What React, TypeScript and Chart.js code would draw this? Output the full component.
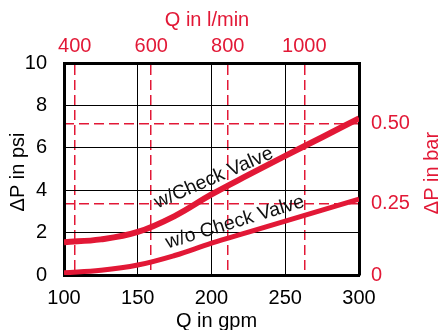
import React, { useEffect, useRef } from 'react';
import { Chart, registerables } from 'chart.js';

Chart.register(...registerables);

// ---- data ----
const flowGpm = [100, 125, 150, 175, 200, 225, 250, 275, 300];
const withCheckPsi = [1.55, 1.68, 2.03, 2.78, 3.8, 4.72, 5.62, 6.5, 7.39];
const withoutCheckPsi = [0.1, 0.22, 0.47, 0.92, 1.5, 2.02, 2.54, 3.06, 3.58];
const gpmTicks = [100, 150, 200, 250, 300];
const lpmTicks = [400, 600, 800, 1000];
const psiTicks = [0, 2, 4, 6, 8, 10];
const barTicks = [0, 0.25, 0.5];
const lpmRange = [372, 1143];
const barRange = [0.028, 0.69];
const curveLabels = ['w/Check Valve', 'w/o Check Valve'];

const RED = 'rgb(226,24,54)';
const FONT = 'Arial, "Liberation Sans", Helvetica, sans-serif';

const textPlugin = {
  id: 'texts',
  afterDraw(chart: any) {
    const { ctx, chartArea, scales } = chart;
    ctx.save();
    ctx.textAlign = 'center';
    ctx.textBaseline = 'middle';
    ctx.font = `20px ${FONT}`;
    // top title
    ctx.fillStyle = RED;
    ctx.fillText('Q in l/min', 207, 20);
    // bottom title
    ctx.fillStyle = '#000';
    ctx.fillText('Q in gpm', (chartArea.left + chartArea.right) / 2 + 5, 321);
    // left title
    ctx.save();
    ctx.translate(18, 172);
    ctx.rotate(-Math.PI / 2);
    ctx.fillText('ΔP in psi', 0, 0);
    ctx.restore();
    // right title
    ctx.save();
    ctx.fillStyle = RED;
    ctx.translate(432, 173);
    ctx.rotate(-Math.PI / 2);
    ctx.fillText('ΔP in bar', 0, 0);
    ctx.restore();

    // curve labels
    ctx.fillStyle = '#111';
    ctx.textBaseline = 'alphabetic';
    const x = scales.x, y = scales.y;
    const put = (txt: string, gx: number, py: number, ang: number, size: number) => {
      ctx.save();
      ctx.font = `${size}px ${FONT}`;
      ctx.translate(x.getPixelForValue(gx), y.getPixelForValue(py));
      ctx.rotate((-ang * Math.PI) / 180);
      ctx.fillText(txt, 0, 0);
      ctx.restore();
    };
    put(curveLabels[0], 203, 4.34, 23.7, 19.5);
    put(curveLabels[1], 217, 2.24, 17, 19.5);
    ctx.restore();
  },
};

export default function App() {
  const ref = useRef<HTMLCanvasElement | null>(null);
  useEffect(() => {
    if (!ref.current) return;
    Chart.defaults.font.family = FONT;
    const chart = new Chart(ref.current, {
      type: 'line',
      data: {
        datasets: [
          {
            label: curveLabels[0],
            data: flowGpm.map((g, i) => ({ x: g, y: withCheckPsi[i] })),
            borderColor: RED,
            borderWidth: 6,
            pointRadius: 0,
            tension: 0.4,
            fill: false,
            xAxisID: 'x',
            yAxisID: 'y',
          },
          {
            label: curveLabels[1],
            data: flowGpm.map((g, i) => ({ x: g, y: withoutCheckPsi[i] })),
            borderColor: RED,
            borderWidth: 5,
            pointRadius: 0,
            tension: 0.4,
            fill: false,
            xAxisID: 'x',
            yAxisID: 'y',
          },
        ],
      },
      options: {
        responsive: false,
        animation: false,
        devicePixelRatio: 1,
        layout: { padding: 0 },
        plugins: { legend: { display: false }, tooltip: { enabled: false } },
        scales: {
          x: {
            type: 'linear',
            position: 'bottom',
            min: gpmTicks[0],
            max: gpmTicks[gpmTicks.length - 1],
            afterBuildTicks: (s: any) => {
              s.ticks = gpmTicks.map((v) => ({ value: v }));
            },
            afterFit: (s: any) => {
              s.height = 55;
            },
            grid: { color: '#000', lineWidth: 1, drawTicks: false },
            border: { color: '#000', width: 3 },
            ticks: { color: '#000', font: { size: 20 }, padding: 11, maxRotation: 0, callback: (v: any) => String(v) },
          },
          x2: {
            type: 'linear',
            position: 'top',
            min: lpmRange[0],
            max: lpmRange[1],
            afterBuildTicks: (s: any) => {
              s.ticks = lpmTicks.map((v) => ({ value: v }));
            },
            afterFit: (s: any) => {
              s.height = 63;
            },
            grid: { color: RED, lineWidth: 1.5, drawTicks: false },
            border: { color: '#000', width: 3, dash: [10, 5] },
            ticks: { color: RED, font: { size: 20 }, padding: 5, maxRotation: 0, callback: (v: any) => String(v) },
          },
          y: {
            type: 'linear',
            position: 'left',
            min: psiTicks[0],
            max: psiTicks[psiTicks.length - 1],
            afterBuildTicks: (s: any) => {
              s.ticks = psiTicks.map((v) => ({ value: v }));
            },
            afterFit: (s: any) => {
              s.width = 64;
            },
            grid: { color: '#000', lineWidth: 1, drawTicks: false },
            border: { color: '#000', width: 3 },
            ticks: { color: '#000', font: { size: 20 }, padding: 17, callback: (v: any) => String(v) },
          },
          y2: {
            type: 'linear',
            position: 'right',
            min: barRange[0],
            max: barRange[1],
            afterBuildTicks: (s: any) => {
              s.ticks = barTicks.map((v) => ({ value: v === 0 ? barRange[0] : v }));
            },
            afterFit: (s: any) => {
              s.width = 82;
            },
            grid: {
              color: (c: any) => (c.index === 0 ? 'rgba(0,0,0,0)' : RED),
              lineWidth: 1.5,
              drawTicks: false,
            },
            border: { color: '#000', width: 3, dash: [10, 5] },
            ticks: {
              color: RED,
              font: { size: 20 },
              padding: 12,
              callback: (v: any) => (v < 0.1 ? '0' : Number(v).toFixed(2)),
            },
          },
        },
      },
      plugins: [textPlugin],
    } as any);
    return () => chart.destroy();
  }, []);
  return (
    <div style={{ position: 'absolute', left: 0, top: 0, width: 441, height: 330 }}>
      <canvas ref={ref} width={441} height={330} style={{ width: 441, height: 330 }} />
    </div>
  );
}
